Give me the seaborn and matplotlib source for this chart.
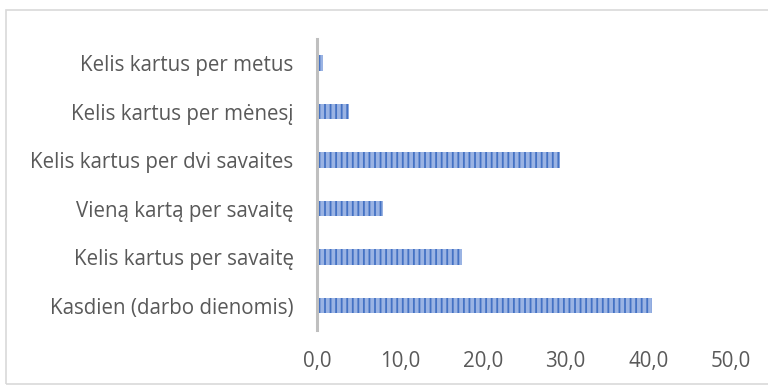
import matplotlib
matplotlib.use("Agg")
import matplotlib.pyplot as plt
import seaborn as sns
import pandas as pd
from matplotlib.patches import Rectangle

# Data
categories = [
    "Kelis kartus per metus",
    "Kelis kartus per mėnesį",
    "Kelis kartus per dvi savaites",
    "Vieną kartą per savaitę",
    "Kelis kartus per savaitę",
    "Kasdien (darbo dienomis)",
]
values = [0.7, 3.9, 29.3, 7.9, 17.5, 40.4]
xticks = [0, 10, 20, 30, 40, 50]
xtick_labels = ["0,0", "10,0", "20,0", "30,0", "40,0", "50,0"]

df = pd.DataFrame({"cat": categories, "val": values})

sns.set_style("white")
plt.rcParams["font.family"] = ["Open Sans", "DejaVu Sans"]
plt.rcParams["hatch.linewidth"] = 1.3
plt.rcParams["hatch.color"] = "#4472C4"

fig = plt.figure(figsize=(7.68, 3.85), dpi=100)
ax = fig.add_axes([0.413, 0.143, 0.539, 0.756])

sns.barplot(data=df, y="cat", x="val", orient="h", color="#9AB3E3",
            width=0.32, ax=ax, saturation=1)
for p in ax.patches:
    p.set_hatch("|||")
    p.set_edgecolor("#4472C4")
    p.set_linewidth(0)

ax.set_xlim(0, 50)
ax.set_ylim(5.5, -0.5)
ax.set_xticks(xticks)
ax.set_xticklabels(xtick_labels)
ax.set_xlabel("")
ax.set_ylabel("")
ax.tick_params(axis="both", length=0, labelsize=14.8, colors="#595959")
ax.tick_params(axis="x", pad=15)
ax.tick_params(axis="y", pad=17)

for s in ["top", "right", "bottom"]:
    ax.spines[s].set_visible(False)
ax.spines["left"].set_color("#BFBFBF")
ax.spines["left"].set_linewidth(2.2)

# outer chart border
fig.patches.append(Rectangle((6 / 768, 0.002), 1.0, 1 - 10 / 385 - 0.002,
                             transform=fig.transFigure, fill=False,
                             edgecolor="#D9D9D9", linewidth=1.2))

fig.savefig("out.png", dpi=100)
